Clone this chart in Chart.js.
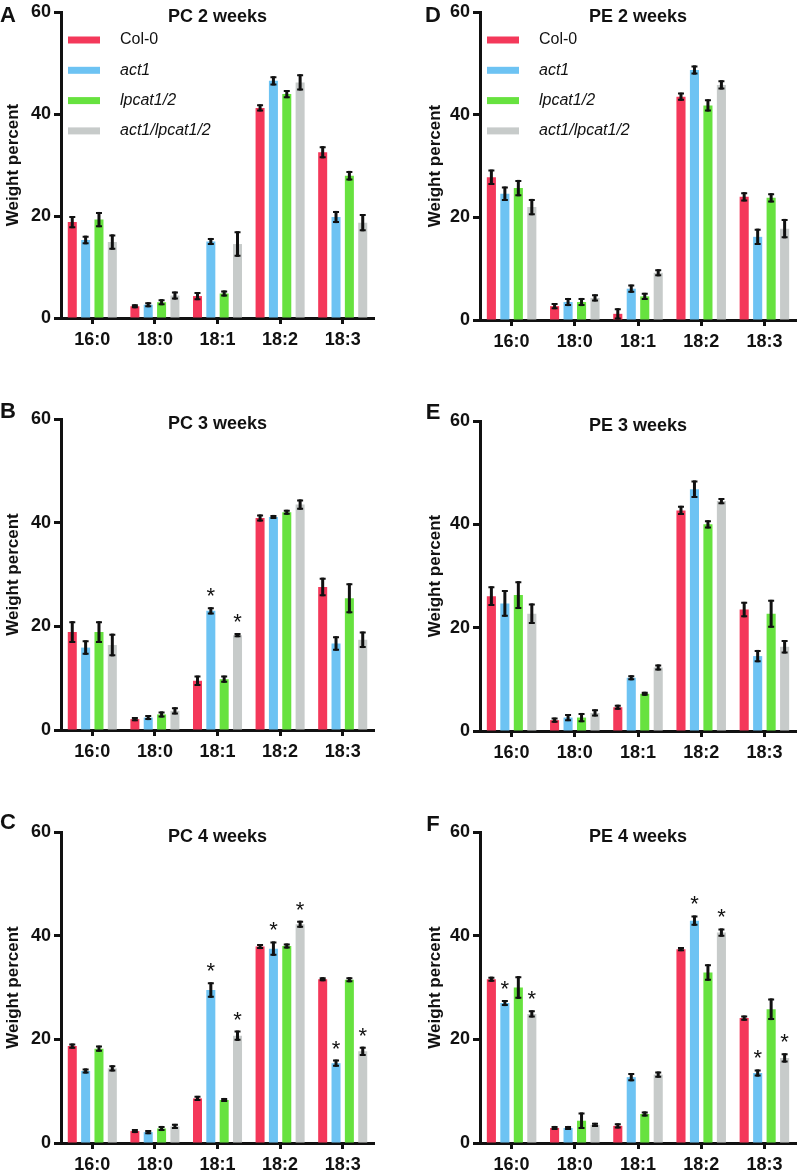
<!DOCTYPE html>
<html>
<head>
<meta charset="utf-8">
<script src="https://cdn.jsdelivr.net/npm/chart.js@4.4.1/dist/chart.umd.min.js"></script>
<style>
  body { margin: 0; background: #fff; }
  #fig { position: relative; width: 800px; height: 1172px; }
  #fig canvas { position: absolute; }
</style>
</head>
<body>
<div id="fig">
  <canvas id="pA" style="left:0;top:0"></canvas>
  <canvas id="pD" style="left:400px;top:0"></canvas>
  <canvas id="pB" style="left:0;top:375px"></canvas>
  <canvas id="pE" style="left:400px;top:375px"></canvas>
  <canvas id="pC" style="left:0;top:765px"></canvas>
  <canvas id="pF" style="left:400px;top:765px"></canvas>
</div>
<script>
// Data
const categories = ["16:0", "18:0", "18:1", "18:2", "18:3"];
const genotypes = ["Col-0", "act1", "lpcat1/2", "act1/lpcat1/2"];
const yTicks = [0, 20, 40, 60];

// rows: Col-0, act1, lpcat1/2, act1/lpcat1/2
const pc2Mean = [[18.8, 2.3, 4.3, 41.2, 32.5], [15.3, 2.6, 15.0, 46.5, 19.8], [19.3, 3.1, 4.8, 43.9, 27.9], [14.9, 4.4, 14.5, 46.2, 18.7]];
const pc2Err  = [[1.0, 0.2, 0.6, 0.5, 1.0], [0.65, 0.3, 0.5, 0.7, 1.0], [1.3, 0.4, 0.4, 0.6, 0.75], [1.3, 0.6, 2.3, 1.4, 1.5]];
const pc2Stars = [];

const pe2Mean = [[27.8, 2.7, 1.2, 43.5, 24.0], [24.6, 3.5, 6.1, 48.7, 16.2], [25.7, 3.5, 4.6, 41.8, 23.8], [22.0, 4.3, 9.2, 45.8, 17.8]];
const pe2Err  = [[1.3, 0.4, 0.9, 0.6, 0.7], [1.2, 0.6, 0.6, 0.7, 1.4], [1.4, 0.6, 0.5, 1.0, 0.7], [1.4, 0.5, 0.5, 0.7, 1.7]];
const pe2Stars = [];

const pc3Mean = [[18.9, 2.1, 9.5, 40.9, 27.6], [15.9, 2.4, 23.0, 41.1, 16.7], [18.9, 3.0, 9.8, 42.0, 25.4], [16.4, 3.7, 18.3, 43.5, 17.4]];
const pc3Err  = [[1.9, 0.2, 0.8, 0.5, 1.6], [1.2, 0.3, 0.5, 0.2, 1.2], [1.9, 0.4, 0.5, 0.3, 2.7], [2.0, 0.5, 0.2, 0.8, 1.4]];
const pc3Stars = [[1, 2], [3, 2]];

const pe3Mean = [[26.1, 2.1, 4.6, 42.7, 23.5], [24.7, 2.6, 10.3, 46.8, 14.5], [26.3, 2.6, 7.2, 40.0, 22.7], [22.7, 3.5, 12.3, 44.5, 16.3]];
const pe3Err  = [[1.7, 0.3, 0.3, 0.7, 1.3], [2.4, 0.5, 0.3, 1.5, 1.0], [2.5, 0.7, 0.2, 0.6, 2.5], [1.8, 0.5, 0.4, 0.4, 1.1]];
const pe3Stars = [];

const pc4Mean = [[18.7, 2.3, 8.6, 37.9, 31.6], [13.9, 2.1, 29.5, 37.5, 15.4], [18.2, 2.8, 8.3, 38.0, 31.5], [14.4, 3.2, 20.7, 42.2, 17.7]];
const pc4Err  = [[0.3, 0.2, 0.3, 0.3, 0.2], [0.3, 0.2, 1.3, 1.2, 0.5], [0.4, 0.3, 0.2, 0.3, 0.3], [0.4, 0.3, 0.8, 0.5, 0.7]];
const pc4Stars = [[1, 2], [3, 2], [1, 3], [3, 3], [1, 4], [3, 4]];

const pe4Mean = [[31.6, 2.9, 3.3, 37.4, 24.1], [27.0, 2.9, 12.7, 42.9, 13.5], [30.0, 4.3, 5.6, 32.9, 25.8], [24.9, 3.5, 13.2, 40.6, 16.4]];
const pe4Err  = [[0.3, 0.2, 0.3, 0.2, 0.3], [0.4, 0.2, 0.6, 0.8, 0.5], [2.0, 1.4, 0.3, 1.4, 1.9], [0.5, 0.2, 0.4, 0.6, 0.7]];
const pe4Stars = [[1, 0], [3, 0], [1, 3], [3, 3], [1, 4], [3, 4]];

const colors = ["#F4385A", "#6DC3F3", "#67E23F", "#C7CBCA"];
const FONT = '"Liberation Sans", Arial, Helvetica, sans-serif';

// error bars drawn from the dataset values through the y scale
const errorBars = {
    id: 'errorBars',
    afterDatasetsDraw(chart) {
        const ctx = chart.ctx, y = chart.scales.y;
        ctx.save();
        ctx.strokeStyle = '#111';
        chart.data.datasets.forEach((ds, i) => {
            chart.getDatasetMeta(i).data.forEach((bar, j) => {
                const top = y.getPixelForValue(ds.data[j] + ds.errors[j]);
                const bot = y.getPixelForValue(Math.max(0, ds.data[j] - ds.errors[j]));
                ctx.lineWidth = 3;
                ctx.beginPath();
                ctx.moveTo(bar.x, top - 1); ctx.lineTo(bar.x, bot + 1);
                ctx.stroke();
                ctx.lineWidth = 2;
                ctx.beginPath();
                ctx.moveTo(bar.x - 3, top); ctx.lineTo(bar.x + 3, top);
                ctx.moveTo(bar.x - 3, bot); ctx.lineTo(bar.x + 3, bot);
                ctx.stroke();
            });
        });
        ctx.restore();
    }
};

// panel title, letter, stars and legend
const deco = {
    id: 'deco',
    afterDraw(chart, args, o) {
        const {ctx, chartArea: a} = chart;
        const y = chart.scales.y;
        ctx.save();
        ctx.fillStyle = '#111';
        ctx.textAlign = 'center';
        ctx.textBaseline = 'middle';
        ctx.font = 'bold 18px ' + FONT;
        ctx.fillText(o.title, (a.left + a.right) / 2, a.top + 5);
        ctx.font = 'bold 22px ' + FONT;
        ctx.fillText(o.letter, o.letterX, a.top + o.letterDy);

        ctx.font = '22px ' + FONT;
        ctx.textBaseline = 'alphabetic';
        o.stars.forEach(([d, c]) => {
            const ds = chart.data.datasets[d];
            const bar = chart.getDatasetMeta(d).data[c];
            const top = y.getPixelForValue(ds.data[c] + ds.errors[c]);
            ctx.fillText('*', bar.x, top - 5);
        });

        if (o.legend) {
            ctx.textAlign = 'left';
            ctx.textBaseline = 'middle';
            chart.data.datasets.forEach((ds, i) => {
                const cy = a.top + 28 + i * 30.3;
                ctx.fillStyle = ds.backgroundColor;
                ctx.fillRect(a.left + 7, cy - 3.5, 32, 7);
                ctx.fillStyle = '#111';
                ctx.font = (i === 0 ? '' : 'italic ') + '16px ' + FONT;
                ctx.fillText(ds.label, a.left + 59, cy);
            });
        }
        ctx.restore();
    }
};

function makePanel(id, means, errs, stars, title, letter, lay) {
    const canvas = document.getElementById(id);
    canvas.width = 400;
    canvas.height = lay.h;
    new Chart(canvas, {
        type: 'bar',
        data: {
            labels: categories,
            datasets: genotypes.map((g, i) => ({
                label: g,
                data: means[i],
                errors: errs[i],
                backgroundColor: colors[i],
                borderWidth: 0,
                categoryPercentage: 0.853,
                barPercentage: 0.675
            }))
        },
        options: {
            responsive: false,
            animation: false,
            devicePixelRatio: 1,
            layout: { padding: { left: lay.padL, right: lay.padR, top: lay.padT, bottom: lay.padB } },
            plugins: {
                legend: { display: false },
                tooltip: { enabled: false },
                deco: { title: title, letter: letter, letterX: lay.letterX, letterDy: lay.letterDy, stars: stars, legend: lay.legend }
            },
            scales: {
                x: {
                    offset: true,
                    grid: { offset: false, drawOnChartArea: false, tickLength: 6, tickWidth: 3, tickColor: '#111' },
                    border: { color: '#111', width: 3 },
                    ticks: { color: '#111', padding: 7, font: { family: FONT, size: 18, weight: 'bold', lineHeight: 1 } },
                    afterFit(s) { s.height = 29; }
                },
                y: {
                    min: 0,
                    max: 60,
                    afterBuildTicks(s) { s.ticks = yTicks.map(v => ({ value: v })); },
                    grid: { drawOnChartArea: false, tickLength: 7, tickWidth: 3, tickColor: '#111' },
                    border: { color: '#111', width: 3 },
                    ticks: { color: '#111', padding: 3, font: { family: FONT, size: 18, weight: 'bold', lineHeight: 1 } },
                    title: { display: true, text: 'Weight percent', color: '#111', padding: { top: 3, bottom: 0 },
                             font: { family: FONT, size: 17, weight: 'bold' } },
                    afterFit(s) { s.width = lay.yW; }
                }
            }
        },
        plugins: [errorBars, deco]
    });
}

const leftCol = { padL: 0, yW: 61, padR: 26, letterX: 8 };
const rightCol = { padL: 22, yW: 58, padR: 4, letterX: 33 };

makePanel('pA', pc2Mean, pc2Err, pc2Stars, 'PC 2 weeks', 'A', Object.assign({ h: 375, padT: 9, padB: 28, letterDy: 4, legend: true }, leftCol));
makePanel('pD', pe2Mean, pe2Err, pe2Stars, 'PE 2 weeks', 'D', Object.assign({ h: 375, padT: 9, padB: 26, letterDy: 4, legend: true }, rightCol));
makePanel('pB', pc3Mean, pc3Err, pc3Stars, 'PC 3 weeks', 'B', Object.assign({ h: 390, padT: 44, padB: 6, letterDy: -7, legend: false }, leftCol));
makePanel('pE', pe3Mean, pe3Err, pe3Stars, 'PE 3 weeks', 'E', Object.assign({ h: 390, padT: 46, padB: 5, letterDy: -8, legend: false }, rightCol));
makePanel('pC', pc4Mean, pc4Err, pc4Stars, 'PC 4 weeks', 'C', Object.assign({ h: 407, padT: 67, padB: 0, letterDy: -9, legend: false }, leftCol));
makePanel('pF', pe4Mean, pe4Err, pe4Stars, 'PE 4 weeks', 'F', Object.assign({ h: 407, padT: 67, padB: 0, letterDy: -7, legend: false }, rightCol));
</script>
</body>
</html>
